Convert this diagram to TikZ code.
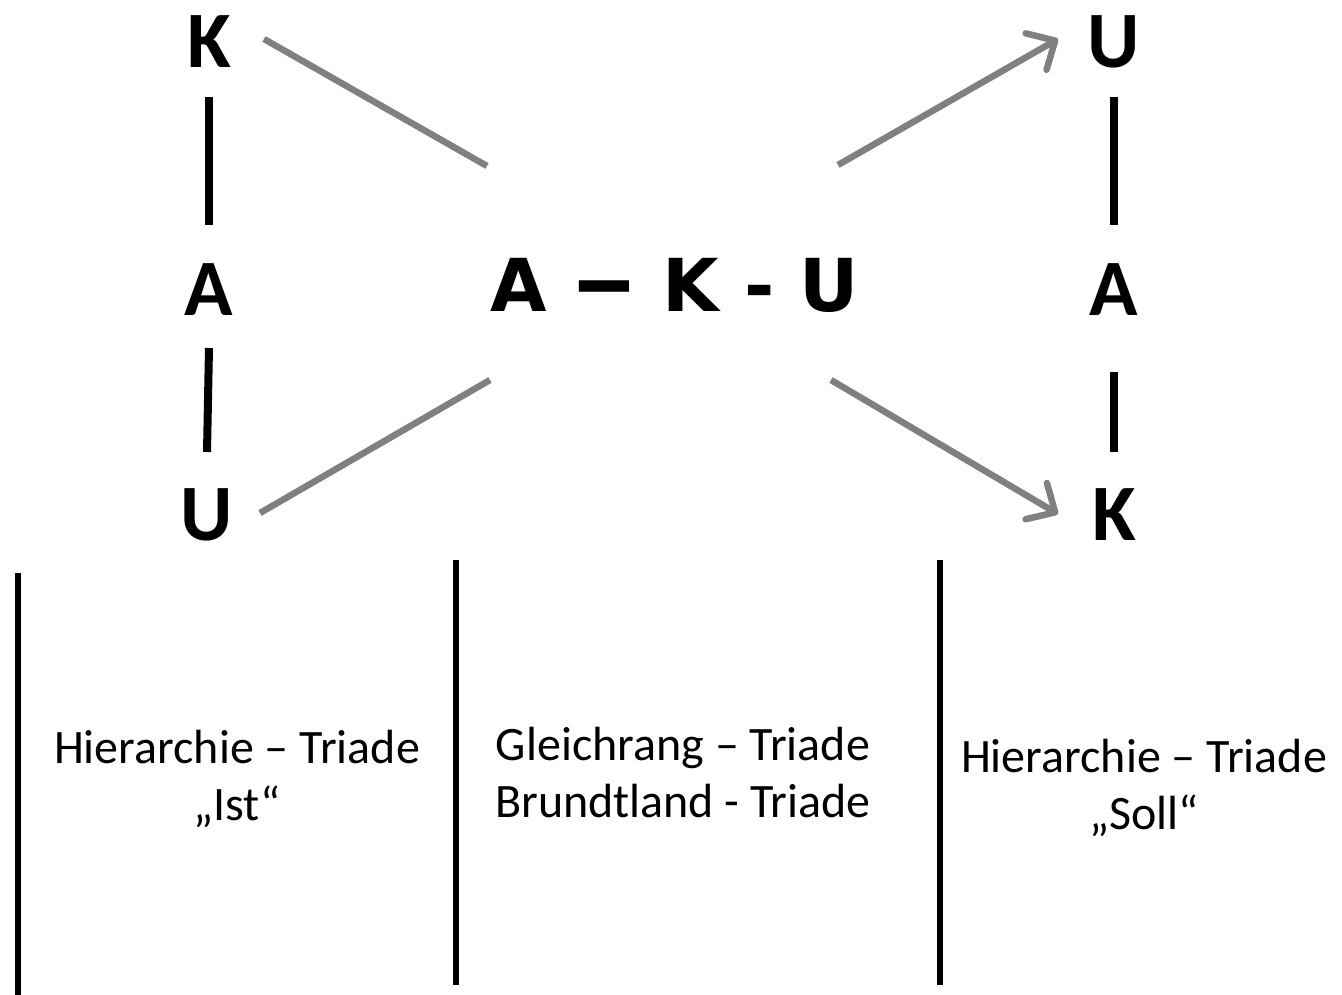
\documentclass[tikz,border=0pt]{standalone}
\usepackage{fontspec}
\setmainfont{Carlito}
\newfontfamily\wide{DejaVu Sans}
\usetikzlibrary{arrows.meta}
\begin{document}
\begin{tikzpicture}[x=1pt,y=-1pt,
  big/.style={font=\fontsize{80}{96}\selectfont\bfseries, inner sep=0pt, anchor=center},
  mid/.style={font=\wide\fontsize{73}{88}\selectfont\bfseries, inner sep=0pt, anchor=center},
  lbl/.style={font=\fontsize{48}{57}\selectfont, align=center, inner sep=0pt, anchor=center},
  blk/.style={line width=8pt, black},
  gry/.style={line width=6.5pt, color=black!50},
  arr/.style={gry, -{Straight Barb[length=22pt, width=42pt, line cap=round, round]}},
  sep/.style={line width=6pt, black}]
\useasboundingbox (0,0) rectangle (1342,995);
% nodes
\node[big] (kl) at (209,42) {K};
\node[big] (al) at (209,290) {A};
\node[big] (ul) at (207,515) {U};
\node[mid] (c) at (675,285) {A \scalebox{1.75}[1.25]{–}\ K - U};
\node[big] (ur) at (1114,42) {U};
\node[big] (ar) at (1114,290) {A};
\node[big] (kr) at (1114,515) {K};
\node[lbl] (t1) at (237,779) {Hierarchie -- Triade\\„Ist“};
\node[lbl] (t2) at (683,773) {Gleichrang -- Triade\\Brundtland - Triade};
\node[lbl] (t3) at (1144,788) {Hierarchie -- Triade\\„Soll“};
% coordinates
\coordinate (l1a) at (209,97); \coordinate (l1b) at (209,225);
\coordinate (l2a) at (209,348); \coordinate (l2b) at (207,452);
\coordinate (r1a) at (1114,97); \coordinate (r1b) at (1114,225);
\coordinate (r2a) at (1114,372); \coordinate (r2b) at (1114,452);
\coordinate (g1a) at (264,39); \coordinate (g1b) at (487,166);
\coordinate (g2a) at (260,513); \coordinate (g2b) at (490,380);
\coordinate (g3a) at (838,165); \coordinate (g3b) at (1058,39);
\coordinate (g4a) at (831,380); \coordinate (g4b) at (1058,514);
\coordinate (s1a) at (18,573); \coordinate (s1b) at (18,995);
\coordinate (s2a) at (456,560); \coordinate (s2b) at (456,985);
\coordinate (s3a) at (940,560); \coordinate (s3b) at (940,985);
% black lines
\draw[blk] (l1a) -- (l1b);
\draw[blk] (l2a) -- (l2b);
\draw[blk] (r1a) -- (r1b);
\draw[blk] (r2a) -- (r2b);
% gray lines
\draw[gry] (g1a) -- (g1b);
\draw[gry] (g2a) -- (g2b);
\draw[arr] (g3a) -- (g3b);
\draw[arr] (g4a) -- (g4b);
% separators
\draw[sep] (s1a) -- (s1b);
\draw[sep] (s2a) -- (s2b);
\draw[sep] (s3a) -- (s3b);
\end{tikzpicture}
\end{document}
